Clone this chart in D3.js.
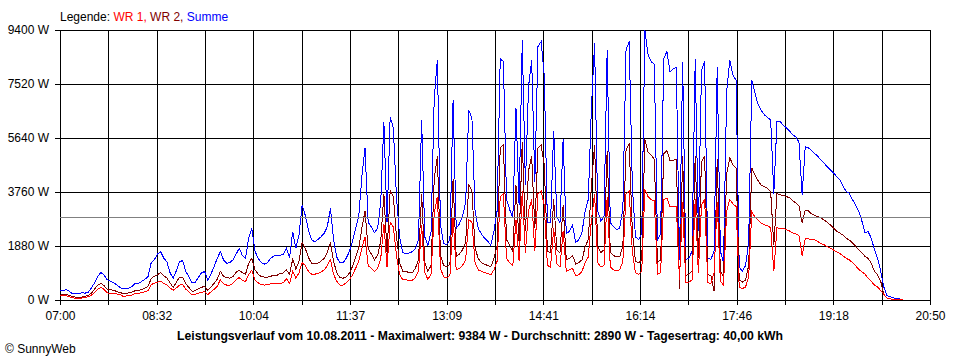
<!DOCTYPE html>
<html><head><meta charset="utf-8">
<script src="https://cdn.jsdelivr.net/npm/d3@7"></script>
<style>
html,body{margin:0;padding:0;background:#fff;}
svg{display:block;font-family:"Liberation Sans",Arial,sans-serif;}
</style></head><body>
<svg id="chart" width="960" height="360"></svg>
<script>
// ---- data ----
const stepMinutes = 3;          // one sample every 3 minutes from 07:00
const dayMinutes = 830;         // 07:00 .. 20:50
const summe = [
320,330,360,300,220,210,220,250,240,270,
420,600,820,960,870,710,650,600,530,450,
380,400,420,480,590,580,650,720,820,1300,
1400,1600,1680,1460,1330,950,760,1020,1320,1380,
1000,800,600,620,780,950,990,700,900,1160,
1450,1680,1400,1280,1300,1400,1600,1800,1550,1450,
2150,2500,1700,1450,1300,1250,1300,1450,1530,1550,
1560,1580,1800,1460,2380,1800,2260,3300,2950,2450,
2090,2030,2100,2200,2320,2550,3200,2100,1500,1290,
1290,1450,1680,2030,2500,2900,4300,5280,2700,2550,
2350,2500,3400,6210,2700,6380,6000,3600,2200,1650,
1600,1640,1680,1790,2100,6270,2200,1900,2380,7000,
8360,2600,1970,1930,2100,6960,2500,2650,2900,3400,
6610,6330,3080,2500,2300,2150,2050,1900,2400,3100,
8400,8300,3500,3150,2850,6700,3300,9050,4000,7430,
8360,4100,8820,9000,7800,2700,2700,5900,2900,2700,
5600,2300,2400,2600,2000,2100,2350,3100,3500,6700,
8950,3100,2750,2900,8700,2700,2550,2450,2500,3200,
8700,9000,4000,2200,2100,2300,9384,8550,8300,8200,
2100,2300,8400,8650,7950,8050,8100,1400,8300,1400,
1460,1700,8400,2400,8000,8300,1450,1420,1700,8100,
1700,1300,7250,8350,7830,7650,1150,1000,1200,2000,
7660,7200,6800,6600,6450,6350,6270,3700,6200,6210,
6090,5990,5880,5760,5680,5500,3660,5340,5300,5200,
5100,5000,4870,4760,4640,4530,4420,4300,4180,3960,
3780,3720,3500,3300,3100,2750,2350,2380,2150,1750,
1450,1000,450,150,120,70,60,40,0
];
const wr2 = [
170,180,200,160,120,100,90,100,130,160,
240,380,520,580,500,380,360,340,300,260,
230,230,250,280,330,320,370,410,480,740,
830,880,950,850,760,600,430,620,790,800,
560,440,300,320,400,440,480,330,450,580,
720,1000,830,780,760,820,960,1040,950,900,
1280,1450,1050,900,820,800,800,830,850,860,
920,940,1050,900,1420,1080,1350,2000,1800,1480,
1280,1260,1280,1350,1450,1650,2000,1350,950,780,
760,800,930,1160,1500,1800,2500,3100,1800,1600,
1400,1550,2050,3700,1650,3800,3600,2200,1300,1000,
990,960,940,1100,1400,3700,1300,1000,1200,4200,
5000,1550,1200,1150,1250,4200,1500,1600,1750,2000,
4000,3800,1800,1450,1300,1250,1200,1150,1450,1900,
5300,5400,2100,1900,1700,4000,2000,5500,2400,4500,
5000,2500,5300,5400,4700,1700,1650,3500,1750,1650,
3300,1400,1450,1550,1250,1300,1400,1850,2100,4000,
5400,1850,1650,1750,5200,1650,1550,1500,1500,1900,
5200,5450,2400,1350,1300,1400,5600,5150,5050,4900,
1300,1400,5100,5200,4850,4870,4900,400,5000,850,
900,1000,5000,1450,4800,5000,880,860,300,4900,
1000,800,4400,4950,4700,4600,700,620,700,1200,
4600,4350,4150,4000,3950,3880,3770,1900,3700,3660,
3640,3600,3560,3460,3380,3280,2700,3130,3100,3000,
2950,2900,2850,2790,2700,2610,2500,2400,2330,2260,
2150,2090,1990,1870,1760,1640,1520,1450,1280,1000,
880,650,200,60,40,20,15,10,0
];
const wr1 = [
140,150,150,110,80,60,60,70,90,110,
170,260,380,440,370,250,230,220,210,200,
130,140,150,180,230,230,260,290,330,540,
580,620,650,580,520,420,340,420,520,540,
380,280,180,190,240,270,290,190,280,370,
480,700,560,520,520,580,700,780,680,640,
880,1040,700,600,540,520,540,560,580,590,
580,600,750,580,1000,760,950,1300,1200,1000,
900,900,920,980,1040,1200,1400,900,650,520,
520,600,700,870,1100,1350,1800,2200,1200,1100,
1000,1100,1450,2650,1150,2700,2550,1550,900,700,
700,690,680,780,1000,2600,950,720,900,3000,
3600,1100,800,780,850,2900,1050,1100,1200,1400,
2800,2700,1300,1050,1000,950,920,880,1050,1350,
3600,3700,1450,1300,1200,2800,1350,3800,1650,3100,
3500,1700,3700,3800,3300,1200,1150,2500,1250,1150,
2400,1000,1050,1100,850,880,1000,1300,1500,2800,
3700,1300,1150,1200,3600,1150,1050,1020,1050,1350,
3700,3800,1700,950,900,1000,3850,3600,3500,3450,
900,950,3500,3550,3250,3250,3250,700,3400,600,
620,700,3500,950,3300,3500,600,580,950,3400,
650,520,3100,3500,3350,3250,450,400,450,800,
3080,2880,2780,2670,2620,2580,2520,1000,2510,2500,
2490,2450,2400,2340,2300,2250,1550,2150,2130,2100,
2100,2030,1970,1920,1860,1800,1740,1680,1620,1540,
1450,1400,1300,1200,1060,980,900,760,650,520,
450,330,200,60,40,20,15,10,0
];
const yTickValues = [0, 1880, 3760, 5640, 7520, 9400];
const xTickLabels = ["07:00","08:32","10:04","11:37","13:09","14:41","16:14","17:46","19:18","20:50"];
const average = 2890;
const legendLabel = "Legende: ";
const legendNames = ["WR 1, ", "WR 2, ", "Summe"];
const legendColors = ["#ff0000", "#800000", "#0000ff"];
const titleText = "Leistungsverlauf vom 10.08.2011 - Maximalwert: 9384 W - Durchschnitt: 2890 W - Tagesertrag: 40,00 kWh";
const footerText = "\u00a9 SunnyWeb";

// ---- chart ----
const FONT = '"Liberation Sans",Arial,sans-serif';
const svg = d3.select("#chart");
svg.append("rect").attr("width",960).attr("height",360).attr("fill","#fff");

const x = d3.scaleLinear().domain([0, dayMinutes]).range([60, 930]);
const y = d3.scaleLinear().domain([0, 9400]).range([300, 30]);
const xTickValues = d3.range(19).map(k => k * dayMinutes / 18);

const xAxis = d3.axisBottom(x).tickValues(xTickValues)
  .tickSizeInner(-275).tickSizeOuter(0).tickPadding(6)
  .tickFormat((d, i) => i % 2 === 0 ? xTickLabels[i / 2] : "");
svg.append("g").attr("transform", "translate(0,305)").call(xAxis)
  .attr("font-family", FONT).attr("font-size", 12)
  .call(g => g.select(".domain").remove())
  .call(g => g.selectAll("line").attr("stroke", "#000").attr("shape-rendering", "crispEdges"))
  .call(g => g.selectAll("text").attr("fill", "#000"));

const yAxis = d3.axisLeft(y).tickValues(yTickValues)
  .tickSizeInner(-875).tickSizeOuter(0).tickPadding(6)
  .tickFormat(d => d + " W");
svg.append("g").attr("transform", "translate(55,0)").call(yAxis)
  .attr("font-family", FONT).attr("font-size", 12)
  .call(g => g.select(".domain").remove())
  .call(g => g.selectAll("line").attr("stroke", "#000").attr("shape-rendering", "crispEdges"))
  .call(g => g.selectAll("text").attr("fill", "#000"));

const line = d3.line().x((d, i) => x(i * stepMinutes)).y(d => y(d));
[[summe, legendColors[2]], [wr2, legendColors[1]], [wr1, legendColors[0]]].forEach(([data, color]) => {
  svg.append("path").datum(data).attr("d", line)
    .attr("fill", "none").attr("stroke", color).attr("stroke-width", 1)
    .attr("shape-rendering", "crispEdges");
});

const avgY = Math.round(y(average)) + 0.5;
svg.append("line").attr("x1", x(0)).attr("x2", x(dayMinutes)).attr("y1", avgY).attr("y2", avgY)
  .attr("stroke", "#808080").attr("stroke-width", 1).attr("shape-rendering", "crispEdges");

// legend
const leg = svg.append("text").attr("x", 60).attr("y", 20.5)
  .attr("font-family", FONT).attr("font-size", 12);
leg.append("tspan").attr("fill", "#000").text(legendLabel);
legendNames.forEach((n, i) => leg.append("tspan").attr("fill", legendColors[i]).text(n));

// title
svg.append("text").attr("x", 480).attr("y", 340).attr("text-anchor", "middle")
  .attr("font-family", FONT).attr("font-size", 12).attr("font-weight", "bold")
  .attr("textLength", 606).attr("lengthAdjust", "spacingAndGlyphs")
  .attr("fill", "#000").text(titleText);

svg.append("text").attr("x", 5).attr("y", 353)
  .attr("font-family", FONT).attr("font-size", 12).attr("fill", "#000").text(footerText);
</script>
</body></html>
